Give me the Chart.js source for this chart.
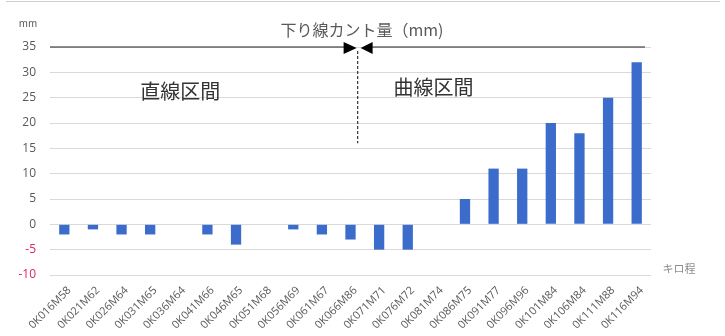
<!DOCTYPE html>
<html>
<head>
<meta charset="utf-8">
<script src="https://cdn.jsdelivr.net/npm/chart.js@4"></script>
<style>
  html, body { margin: 0; padding: 0; background: #fff; }
  #wrap { width: 725px; height: 336px; position: relative; }
</style>
</head>
<body>
<div id="wrap"><canvas id="chart1"></canvas></div>
<script>
var categories = ['0K016M58', '0K021M62', '0K026M64', '0K031M65', '0K036M64', '0K041M66', '0K046M65',
    '0K051M68', '0K056M69', '0K061M67', '0K066M86', '0K071M71', '0K076M72', '0K081M74', '0K086M75',
    '0K091M77', '0K096M96', '0K101M84', '0K106M84', '0K111M88', '0K116M94'];
var cantValues = [-2, -1, -2, -2, 0, -2, -4, 0, -1, -2, -3, -5, -5, 0, 5, 11, 11, 20, 18, 25, 32];
var yTicks = [-10, -5, 0, 5, 10, 15, 20, 25, 30, 35];
var chartTitle = '下り線カント量（mm)';
var sectionLabels = ['直線区間', '曲線区間'];
var unitLabel = 'mm';
var xAxisLabel = 'キロ程';
var splitIndex = 10.25; // boundary between the two sections

var jpFont = '"Noto Sans CJK JP", "Noto Sans", sans-serif';

var overlay = {
    id: 'overlay',
    afterDraw: function (chart) {
        var ctx = chart.ctx;
        var x = chart.scales.x, y = chart.scales.y;
        var area = chart.chartArea;
        var splitX = x.getPixelForValue(splitIndex);
        var topY = y.getPixelForValue(35);

        ctx.save();
        // top frame line
        ctx.strokeStyle = '#d0d0d0';
        ctx.lineWidth = 1;
        ctx.beginPath();
        ctx.moveTo(6, 1.5);
        ctx.lineTo(720, 1.5);
        ctx.stroke();

        // arrows along the 35 line
        ctx.strokeStyle = '#222';
        ctx.lineWidth = 1.2;
        ctx.beginPath();
        ctx.moveTo(area.left, topY);
        ctx.lineTo(splitX - 10, topY);
        ctx.moveTo(splitX + 10, topY);
        ctx.lineTo(area.right - 6, topY);
        ctx.stroke();
        ctx.fillStyle = '#000';
        ctx.beginPath();
        ctx.moveTo(splitX - 1, topY + 1);
        ctx.lineTo(splitX - 14, topY - 5);
        ctx.lineTo(splitX - 14, topY + 7);
        ctx.closePath();
        ctx.fill();
        ctx.beginPath();
        ctx.moveTo(splitX + 3, topY + 1);
        ctx.lineTo(splitX + 15, topY - 5);
        ctx.lineTo(splitX + 15, topY + 7);
        ctx.closePath();
        ctx.fill();

        // dashed divider
        ctx.strokeStyle = '#333';
        ctx.lineWidth = 1.2;
        ctx.setLineDash([3, 2]);
        ctx.beginPath();
        ctx.moveTo(splitX, topY + 4);
        ctx.lineTo(splitX, y.getPixelForValue(16));
        ctx.stroke();
        ctx.setLineDash([]);

        // texts
        ctx.textBaseline = 'middle';
        ctx.textAlign = 'center';
        ctx.fillStyle = '#595959';
        ctx.font = '16px ' + jpFont;
        ctx.fillText(chartTitle, 362, 30);

        ctx.fillStyle = '#333';
        ctx.font = '20px ' + jpFont;
        ctx.fillText(sectionLabels[0], x.getPixelForValue(4.05), y.getPixelForValue(26.2));
        ctx.fillText(sectionLabels[1], x.getPixelForValue(12.9), y.getPixelForValue(27));

        ctx.fillStyle = '#595959';
        ctx.font = '10px ' + jpFont;
        ctx.fillText(unitLabel, 28, 23);
        ctx.fillStyle = '#8c8c8c';
        ctx.font = '11px ' + jpFont;
        ctx.fillText(xAxisLabel, 679, 269);
        ctx.restore();
    }
};

var chart1 = new Chart(document.getElementById('chart1'), {
    type: 'bar',
    data: {
        labels: categories,
        datasets: [
            {
                label: chartTitle,
                data: cantValues,
                backgroundColor: '#3c6ccb',
                barPercentage: 0.36,
                categoryPercentage: 1,
            },
        ],
    },
    options: {
        responsive: true,
        maintainAspectRatio: false,
        animation: false,
        layout: { padding: { top: 47, right: 74, left: 0, bottom: 0 } },
        plugins: {
            legend: { display: false },
            tooltip: { enabled: false },
        },
        scales: {
            x: {
                grid: { display: false, drawTicks: false },
                border: { display: false },
                ticks: {
                    color: '#595959',
                    font: { size: 11, family: '"Open Sans", sans-serif' },
                    maxRotation: 45,
                    minRotation: 45,
                    autoSkip: false,
                    padding: 9,
                    labelOffset: 5,
                },
                afterFit: function (scale) { scale.height = 61; },
            },
            y: {
                min: -10,
                max: 35,
                afterBuildTicks: function (scale) {
                    scale.ticks = yTicks.map(function (v) { return { value: v }; });
                },
                grid: { color: '#d9d9d9', drawTicks: false },
                border: { display: false },
                ticks: {
                    color: function (c) { return c.tick.value < 0 ? '#e0245e' : '#595959'; },
                    font: { size: 12, family: '"Open Sans", sans-serif' },
                    padding: 14,
                },
                afterFit: function (scale) { scale.width = 50; },
            },
        },
    },
    plugins: [overlay],
});
</script>
</body>
</html>
